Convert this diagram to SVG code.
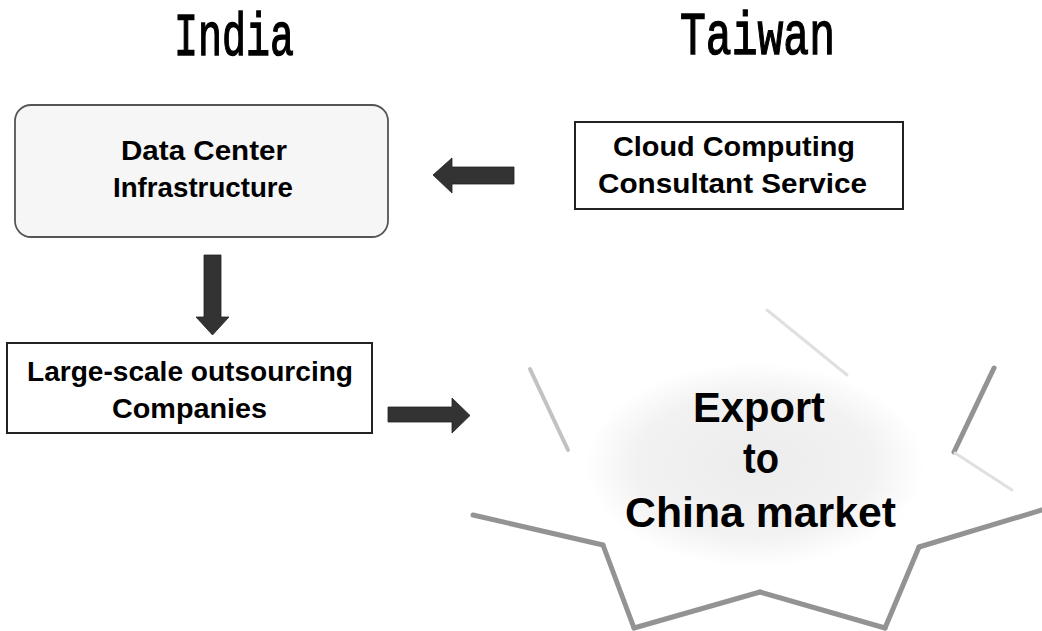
<svg xmlns="http://www.w3.org/2000/svg" width="1042" height="631" viewBox="0 0 1042 631">
  <style>
    .title { font-family: "Liberation Mono", "DejaVu Sans Mono", monospace; font-size: 40px; fill: #000; stroke: #000; stroke-width: 0.9px; }
    .lbl { font-family: "Liberation Sans", Arial, sans-serif; font-weight: bold; font-size: 28px; fill: #000; text-anchor: middle; }
    .big { font-family: "Liberation Sans", Arial, sans-serif; font-weight: bold; font-size: 42px; fill: #000; text-anchor: middle; }
    .box { fill: #ffffff; stroke: #222; stroke-width: 2; }
    .rbox { fill: #f6f6f6; stroke: #555; stroke-width: 1.8; }
    .arrow { fill: #333333; stroke: #222; stroke-width: 0.8; }
    .edge-dark { stroke: #939393; stroke-width: 5; fill: none; stroke-linecap: round; }
    .edge-mid { stroke: #c2c2c2; stroke-width: 4; fill: none; stroke-linecap: round; }
    .edge-faint { stroke: #e0e0e0; stroke-width: 3; fill: none; stroke-linecap: round; }
  </style>
  <defs>
    <radialGradient id="glow" cx="755" cy="465" r="170" gradientUnits="userSpaceOnUse" gradientTransform="translate(755 465) scale(1 0.6) translate(-755 -465)">
      <stop offset="0" stop-color="#ececec"/>
      <stop offset="0.7" stop-color="#f2f2f2"/>
      <stop offset="1" stop-color="#ffffff"/>
    </radialGradient>
  </defs>
  <rect x="0" y="0" width="1042" height="631" fill="#ffffff"/>

  <g id="title-india">
    <text class="title" transform="matrix(1,0,0,1.55,174,55)" x="0" y="0" textLength="120" lengthAdjust="spacingAndGlyphs">India</text>
  </g>
  <g id="title-taiwan">
    <text class="title" transform="matrix(1,0,0,1.55,680,54)" x="0" y="0" textLength="155" lengthAdjust="spacingAndGlyphs">Taiwan</text>
  </g>

  <g id="node-datacenter">
    <rect class="rbox" x="15" y="105" width="373" height="132" rx="16" ry="16"/>
    <text class="lbl" x="204" y="160" textLength="166" lengthAdjust="spacingAndGlyphs">Data Center</text>
    <text class="lbl" x="203" y="197" textLength="180" lengthAdjust="spacingAndGlyphs">Infrastructure</text>
  </g>

  <g id="node-cloud">
    <rect class="box" x="575" y="122" width="328" height="87"/>
    <text class="lbl" x="734" y="156" textLength="242" lengthAdjust="spacingAndGlyphs">Cloud Computing</text>
    <text class="lbl" x="732.5" y="193" textLength="269" lengthAdjust="spacingAndGlyphs">Consultant Service</text>
  </g>

  <g id="node-outsourcing">
    <rect class="box" x="7" y="343" width="365" height="90"/>
    <text class="lbl" x="190" y="381" textLength="326" lengthAdjust="spacingAndGlyphs">Large-scale outsourcing</text>
    <text class="lbl" x="189.5" y="418" textLength="155" lengthAdjust="spacingAndGlyphs">Companies</text>
  </g>

  <g id="node-export">
    <polygon points="765,308 847,375 994,368 954,452 1042,510 919,547 885,630 760,592 634,630 603,545 473,515 570,455 528,366 680,370" fill="url(#glow)" stroke="none"/>
    <line class="edge-dark" x1="473" y1="515" x2="603" y2="545"/>
    <line class="edge-dark" x1="603" y1="545" x2="634" y2="628"/>
    <line class="edge-dark" x1="634" y1="628" x2="760" y2="592"/>
    <line class="edge-dark" x1="760" y1="592" x2="885" y2="628"/>
    <line class="edge-dark" x1="885" y1="628" x2="919" y2="547"/>
    <line class="edge-dark" x1="919" y1="547" x2="1042" y2="510"/>
    <line class="edge-dark" x1="994" y1="368" x2="954" y2="452"/>
    <line class="edge-mid" x1="530" y1="369" x2="568" y2="450"/>
    <line class="edge-faint" x1="767" y1="310" x2="847" y2="375"/>
    <line class="edge-faint" x1="955" y1="453" x2="1012" y2="490"/>
    <text class="big" x="759" y="422" textLength="132" lengthAdjust="spacingAndGlyphs">Export</text>
    <text class="big" x="761" y="473" textLength="36" lengthAdjust="spacingAndGlyphs">to</text>
    <text class="big" x="760.5" y="527" textLength="271" lengthAdjust="spacingAndGlyphs">China market</text>
  </g>

  <g id="connectors">
    <polygon class="arrow" points="514,167 452,167 452,158 433,175 452,193 452,184 514,184"/>
    <polygon class="arrow" points="204,255 221,255 221,317 229,317 212.5,335 196,317 204,317"/>
    <polygon class="arrow" points="388,407 452,407 452,398 470,415.5 452,433 452,422 388,422"/>
  </g>
</svg>
